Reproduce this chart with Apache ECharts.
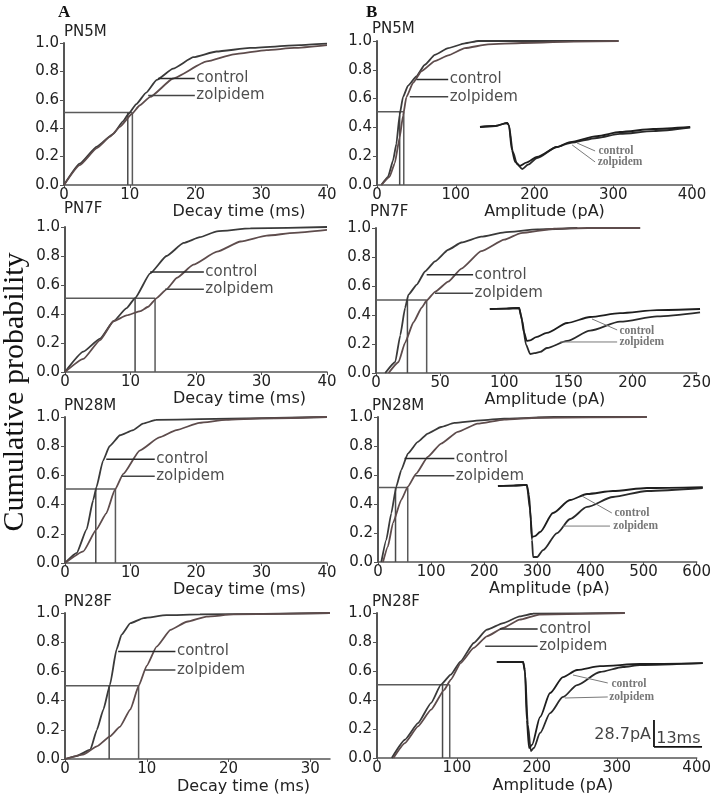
<!DOCTYPE html>
<html><head><meta charset="utf-8">
<script src="https://cdn.jsdelivr.net/npm/echarts@6/dist/echarts.min.js"></script>
<style>html,body{margin:0;padding:0;background:#fff}#c{width:714px;height:801px}</style>
</head><body><div id="c"></div>
<script>
// ---------- Cumulative distributions (x, cumulative probability) ----------
const a1Control  = [[0,0],[2.4,0.15],[5,0.27],[7.5,0.36],[9,0.45],[9.8,0.5],[11,0.57],[12.5,0.65],[14.1,0.74],[16.6,0.82],[19.7,0.9],[23.2,0.94],[28.3,0.965],[35.9,0.985],[40,0.995]];
const a1Zolpidem = [[0,0],[2.4,0.14],[5,0.26],[7,0.34],[8.5,0.41],[10.3,0.5],[11.5,0.56],[13.1,0.62],[16.6,0.75],[21.7,0.87],[25.8,0.92],[30.8,0.95],[35,0.965],[40,0.985]];
const a1Median = [0.51, 9.7, 10.4];
const a1CtrlLeader = [[14.3,0.75],[19.9,0.75]];
const a1ZolLeader  = [[12.8,0.63],[19.9,0.63]];

const a2Control  = [[0,0],[2.8,0.14],[5.35,0.23],[7.4,0.35],[9.4,0.44],[10.7,0.51],[13,0.68],[15.5,0.8],[18.1,0.89],[20.6,0.93],[23.2,0.97],[28.3,0.99],[40,1.0]];
const a2Zolpidem = [[0,0],[2.8,0.09],[5.35,0.22],[7.4,0.35],[9.4,0.39],[11.5,0.42],[12.7,0.45],[14,0.51],[15.5,0.57],[17.1,0.65],[19.6,0.74],[23.2,0.83],[26.8,0.9],[30.8,0.94],[35,0.96],[40,0.98]];
const a2Median = [0.508, 10.7, 13.75];
const a2CtrlLeader = [[13,0.69],[21.2,0.69]];
const a2ZolLeader  = [[15.3,0.57],[21.2,0.57]];

const a3Control  = [[0,0],[1.8,0.07],[3.3,0.23],[4.3,0.43],[4.8,0.52],[5.8,0.7],[6.8,0.8],[8.4,0.875],[10.4,0.91],[11.9,0.955],[13.9,0.98],[20.5,0.985],[40,1.0]];
const a3Zolpidem = [[0,0],[2.8,0.08],[4.8,0.23],[6.3,0.34],[7.6,0.5],[8.9,0.61],[11.4,0.77],[14.4,0.86],[17,0.91],[20.5,0.96],[24.6,0.98],[30,0.99],[40,1.0]];
const a3Median = [0.507, 4.7, 7.7];
const a3CtrlLeader = [[6.3,0.71],[13.7,0.71]];
const a3ZolLeader  = [[8.6,0.595],[13.7,0.595]];

const a4Control  = [[0,0],[1.4,0.02],[3.1,0.064],[3.9,0.2],[4.7,0.34],[5.5,0.51],[6.3,0.75],[6.9,0.85],[8,0.93],[9.6,0.965],[12.4,0.985],[16.5,0.99],[32.4,1.0]];
const a4Zolpidem = [[0,0],[2.2,0.03],[3.9,0.087],[5.5,0.155],[6.7,0.22],[8,0.34],[9,0.5],[10,0.64],[11.2,0.77],[12.9,0.885],[14.9,0.94],[17.3,0.975],[20.6,0.99],[32.4,1.0]];
const a4Median = [0.502, 5.4, 9.0];
const a4CtrlLeader = [[6.5,0.737],[13.5,0.737]];
const a4ZolLeader  = [[9.8,0.61],[13.5,0.61]];

const b1Control  = [[5.5,0],[14,0.057],[20.4,0.17],[24.6,0.286],[28.8,0.49],[33,0.61],[39.4,0.69],[50,0.755],[60.7,0.835],[73.4,0.904],[90.4,0.95],[111.6,0.984],[128.5,1.0],[306.7,1.0]];
const b1Zolpidem = [[5.5,0],[16,0.057],[22.5,0.15],[28.8,0.33],[33,0.48],[37.3,0.61],[45.8,0.71],[56.4,0.79],[73.4,0.86],[90.4,0.9],[111.6,0.95],[141,0.977],[183.7,0.986],[250,0.995],[306.7,1.0]];
const b1Median = [0.508, 28.8, 34];
const b1CtrlLeader = [[50,0.732],[90.4,0.732]];
const b1ZolLeader  = [[41.6,0.613],[90.4,0.613]];

const b2Control  = [[7.2,0],[15,0.076],[18.9,0.26],[22.7,0.45],[25.3,0.54],[31.8,0.61],[38.2,0.7],[46,0.77],[56.3,0.85],[66.6,0.9],[82,0.94],[100,0.97],[126,0.99],[157,1.0]];
const b2Zolpidem = [[9.8,0],[17.6,0.076],[22.7,0.21],[29.2,0.35],[35.6,0.45],[39.5,0.5],[46,0.56],[56.3,0.63],[66.6,0.72],[82,0.84],[100,0.92],[113,0.965],[139,0.995],[165,1.0],[206,1.0]];
const b2Median = [0.503, 24.5, 39.5];
const b2CtrlLeader = [[39.5,0.677],[75.7,0.677]];
const b2ZolLeader  = [[46,0.55],[75.7,0.55]];

const b3Control  = [[6.25,0],[15.6,0.153],[25,0.336],[34.4,0.52],[43.75,0.634],[56.25,0.748],[75,0.828],[93.75,0.886],[118.75,0.931],[143.75,0.959],[193.75,0.977],[237.5,0.989],[331,1.0],[506,1.0]];
const b3Zolpidem = [[9.4,0],[18.75,0.108],[28.1,0.268],[43.75,0.428],[56.25,0.52],[71.9,0.61],[93.75,0.725],[118.75,0.817],[150,0.897],[187.5,0.954],[237.5,0.982],[300,0.995],[506,1.0]];
const b3Median = [0.513, 33, 56];
const b3CtrlLeader = [[50,0.714],[143.75,0.714]];
const b3ZolLeader  = [[70,0.594],[143.75,0.594]];

const b4Control  = [[18.5,0],[34.9,0.126],[51.3,0.24],[67.7,0.38],[80,0.506],[92.3,0.575],[104.6,0.667],[121,0.793],[137.4,0.885],[158,0.93],[178.5,0.977],[195,0.995],[310,1.0]];
const b4Zolpidem = [[20.5,0],[34.9,0.103],[51.3,0.218],[67.7,0.333],[84.1,0.47],[92.3,0.54],[104.6,0.655],[121,0.759],[137.4,0.839],[158,0.897],[178.5,0.954],[203,0.989],[310,1.0]];
const b4Median = [0.506, 82, 91];
const b4CtrlLeader = [[153.8,0.89],[201,0.89]];
const b4ZolLeader  = [[135.4,0.77],[201,0.77]];

// ---------- Inset current traces (time ms, current pA) ----------
const i1Control  = [[0,0],[4.1,1.1],[7.3,4.3],[7.8,2.1],[8.6,-24.5],[9.5,-37.2],[10.8,-41.5],[12.5,-38],[15.4,-31.9],[20.8,-21.3],[24.3,-16],[31.6,-9.6],[37.8,-5.3],[46.8,-2.1],[56.8,0]];
const i1Zolpidem = [[0,0],[4.1,1.1],[7.3,4.3],[7.8,2.1],[8.9,-26.6],[10,-39.4],[11.4,-44.7],[13,-40],[15.4,-33],[20.8,-21.3],[24.3,-17],[31.6,-11.7],[37.8,-7.4],[46.8,-4.3],[56.8,-0.5]];
const i1CtrlLeader = [[26.2,-17],[31.1,-25.5]];
const i1ZolLeader  = [[24.9,-19.1],[31.1,-37.2]];
const i1LabelPos = [[31.6,-25.5],[31.4,-37.2]];

const i2Control  = [[0.5,0],[5,0.5],[8.4,1.1],[8.9,-6.4],[9.7,-24.5],[10.5,-34],[11.4,-33.5],[13,-30],[15.9,-25.5],[21.4,-14.9],[27.6,-8.5],[35.7,-4.3],[45.7,-1.1],[57.3,0]];
const i2Zolpidem = [[0.5,0],[5,0.5],[8.4,1.1],[9.2,-11.7],[10.3,-38.3],[11.4,-47.9],[12.5,-47],[14.1,-45.7],[15.9,-41.5],[21.4,-34],[27.6,-23],[35.7,-13.5],[45.7,-7.8],[57.3,-3.5]];
const i2CtrlLeader = [[28.1,-10.6],[34.9,-22.3]];
const i2ZolLeader  = [[19.5,-35.1],[34.9,-35.1]];
const i2LabelPos = [[35.1,-23.4],[35.1,-35.1]];

const i3Control  = [[0.8,0],[5,0.5],[8.6,1.1],[9.2,-9.6],[9.7,-36.2],[10,-54.3],[10.8,-53.2],[12.2,-48.9],[15.7,-28.7],[20.3,-14.9],[24.9,-8.5],[31.9,-5.3],[41.1,-2.1],[56.2,-1.1]];
const i3Zolpidem = [[0.8,0],[5,0.5],[8.6,1.1],[9.5,-25.5],[10,-57.4],[10.3,-75.5],[11.4,-75.5],[13,-68.1],[16.8,-50],[20.3,-35.1],[24.9,-22.3],[31.9,-11.7],[41.1,-5.3],[56.2,-2.1]];
const i3CtrlLeader = [[23.5,-10.6],[31.6,-28.7]];
const i3ZolLeader  = [[18.4,-42.6],[31.1,-42.6]];
const i3LabelPos = [[31.9,-28.7],[31.6,-42.6]];

const i4Control  = [[0.5,0],[7.6,0],[8.1,-8.5],[8.6,-61.7],[9.2,-91.5],[10,-88.3],[12.2,-58.5],[14.9,-33],[18.4,-16],[22.2,-8.5],[28.4,-4.3],[39.2,-2.1],[56.2,-1.1]];
const i4Zolpidem = [[0.5,0],[7.6,0],[8.1,-10.6],[8.9,-67],[9.7,-94.7],[10.5,-91.5],[12.2,-75.5],[14.9,-54.3],[18.4,-37.2],[22.2,-24.5],[28.4,-10.6],[34.6,-5.3],[39.2,-3.2],[56.2,-1.1]];
const i4CtrlLeader = [[21.1,-13.8],[30.5,-22.3]];
const i4ZolLeader  = [[18.9,-38.3],[30.5,-37.2]];
const i4LabelPos = [[31.1,-23.4],[30.5,-37.2]];
const scaleBarAmp  = [[43,-90.4],[43,-61.7]];   // 28.7 pA
const scaleBarTime = [[43,-90.4],[56,-90.4]];   // 13 ms

const panelTitles = ['PN5M','PN7F','PN28M','PN28F','PN5M','PN7F','PN28M','PN28F'];
const decayName = 'Decay time (ms)', ampName = 'Amplitude (pA)';

// ---------- layout ----------
const SANS = "'DejaVu Sans', Verdana, sans-serif";
const SERIF = "'Liberation Serif', 'DejaVu Serif', serif";
const panels = [
  {g:{left:64,top:43,width:263,height:142}, xMax:40, xInt:10, name:decayName, pad:87, t:[64,25], c:a1Control, z:a1Zolpidem, m:a1Median, lc:a1CtrlLeader, lz:a1ZolLeader},
  {g:{left:65,top:227,width:262,height:145}, xMax:40, xInt:10, name:decayName, pad:87, t:[64,202], c:a2Control, z:a2Zolpidem, m:a2Median, lc:a2CtrlLeader, lz:a2ZolLeader},
  {g:{left:65,top:417,width:262,height:146}, xMax:40, xInt:10, name:decayName, pad:87, t:[64,399], c:a3Control, z:a3Zolpidem, m:a3Median, lc:a3CtrlLeader, lz:a3ZolLeader},
  {g:{left:65,top:613,width:265,height:146}, xMax:32.4, xInt:10, name:decayName, pad:92, t:[64,595], c:a4Control, z:a4Zolpidem, m:a4Median, lc:a4CtrlLeader, lz:a4ZolLeader, gap:20},
  {g:{left:377,top:41,width:315,height:144}, xMax:400, xInt:100, name:ampName, pad:20, t:[372,22], c:b1Control, z:b1Zolpidem, m:b1Median, lc:b1CtrlLeader, lz:b1ZolLeader},
  {g:{left:376,top:228,width:322,height:145}, xMax:250, xInt:50, name:ampName, pad:17, t:[370,205], c:b2Control, z:b2Zolpidem, m:b2Median, lc:b2CtrlLeader, lz:b2ZolLeader},
  {g:{left:378,top:417,width:320,height:145}, xMax:600, xInt:100, name:ampName, pad:24, t:[372,399], c:b3Control, z:b3Zolpidem, m:b3Median, lc:b3CtrlLeader, lz:b3ZolLeader},
  {g:{left:377,top:613,width:323,height:145}, xMax:400, xInt:100, name:ampName, pad:32, t:[372,595], c:b4Control, z:b4Zolpidem, m:b4Median, lc:b4CtrlLeader, lz:b4ZolLeader, gap:20}
];
const insets = [
  {g:{left:480,top:115,width:215,height:60}, x:[0,58.1], y:[-51.1,12.8], c:i1Control, z:i1Zolpidem, lc:i1CtrlLeader, lz:i1ZolLeader, lp:i1LabelPos},
  {g:{left:488,top:300,width:215,height:60}, x:[0,58.1], y:[-54.3,9.6], c:i2Control, z:i2Zolpidem, lc:i2CtrlLeader, lz:i2ZolLeader, lp:i2LabelPos},
  {g:{left:495,top:475,width:210,height:90}, x:[0,56.8], y:[-84.0,11.7], c:i3Control, z:i3Zolpidem, lc:i3CtrlLeader, lz:i3ZolLeader, lp:i3LabelPos},
  {g:{left:495,top:650,width:210,height:110}, x:[0,56.8], y:[-104.3,12.8], c:i4Control, z:i4Zolpidem, lc:i4CtrlLeader, lz:i4ZolLeader, lp:i4LabelPos, bar:true}
];

const option = {animation:false, backgroundColor:'#fff', title:[], grid:[], xAxis:[], yAxis:[], series:[], graphic:[]};
function lineS(idx, data, color, width, smooth){
  return {type:'line', xAxisIndex:idx, yAxisIndex:idx, data:data, showSymbol:false, symbol:'none',
    smooth: smooth||false, smoothMonotone:'x', silent:true, lineStyle:{color:color, width:width}};
}
function labelS(idx, pts, names, font, size, color, weight){
  return {type:'scatter', xAxisIndex:idx, yAxisIndex:idx, symbolSize:1, silent:true,
    itemStyle:{color:'rgba(0,0,0,0)'},
    data: pts.map((p,k)=>({value:p, name:names[k]})),
    label:{show:true, position:'right', distance:1, formatter:'{b}', fontFamily:font, fontSize:size, color:color, fontWeight:weight||'normal'}};
}
panels.forEach((p,i)=>{
  option.grid.push(Object.assign({}, p.g));
  option.title.push({text:panelTitles[i], left:p.t[0], top:p.t[1], padding:0,
    textStyle:{fontFamily:SANS, fontSize:15, fontWeight:'normal', color:'#222'}});
  option.xAxis.push({gridIndex:i, type:'value', min:0, max:p.xMax, interval:p.xInt,
    axisLine:{show:true, onZero:false, lineStyle:{color:'#555', width:1.5}},
    axisTick:{show:true, length:3, lineStyle:{color:'#555'}},
    axisLabel:{margin:3, fontFamily:SANS, fontSize:15, color:'#222', showMaxLabel: p.xMax % p.xInt === 0, showMinLabel:true},
    splitLine:{show:false},
    name:p.name, nameLocation:'middle', nameGap:p.gap||18,
    nameTextStyle:{fontFamily:SANS, fontSize:16, color:'#222', padding:[0,0,0,p.pad]}});
  option.yAxis.push({gridIndex:i, type:'value', min:0, max:1, interval:0.2,
    axisLine:{show:true, onZero:false, lineStyle:{color:'#555', width:2}},
    axisTick:{show:true, length:4, lineStyle:{color:'#555'}},
    axisLabel:{margin:5, fontFamily:SANS, fontSize:15, color:'#222', formatter:v=>v.toFixed(1)},
    splitLine:{show:false}});
  const m = p.m;
  option.series.push(lineS(i, [[0,m[0]],[Math.max(m[1],m[2]),m[0]]], '#5a5a5a', 1.5));
  option.series.push(lineS(i, [[m[1],0],[m[1],m[0]]], '#4a4a4a', 1.5));
  option.series.push(lineS(i, [[m[2],0],[m[2],m[0]]], '#5a5a5a', 1.5));
  option.series.push(lineS(i, p.c, '#3a3a3a', 1.8, 0.15));
  option.series.push(lineS(i, p.z, '#5e4c4c', 1.8, 0.15));
  option.series.push(lineS(i, p.lc, '#2a2a2a', 1.5));
  option.series.push(lineS(i, p.lz, '#444', 1.5));
  option.series.push(labelS(i, [p.lc[1], p.lz[1]], ['control','zolpidem'], SANS, 15, '#222'));
});
insets.forEach((q,j)=>{
  const idx = panels.length + j;
  option.grid.push(Object.assign({}, q.g));
  option.xAxis.push({gridIndex:idx, type:'value', min:q.x[0], max:q.x[1], show:false, splitLine:{show:false}});
  option.yAxis.push({gridIndex:idx, type:'value', min:q.y[0], max:q.y[1], show:false, splitLine:{show:false}});
  option.series.push(lineS(idx, q.z, '#2a2a2a', 1.8, 0.25));
  option.series.push(lineS(idx, q.c, '#1e1e1e', 1.8, 0.25));
  option.series.push(lineS(idx, q.lc, '#7a7a7a', 1));
  option.series.push(lineS(idx, q.lz, '#7a7a7a', 1));
  option.series.push(labelS(idx, q.lp, ['control','zolpidem'], SERIF, 11.5, '#555', 'bold'));
  if (q.bar){
    option.series.push(lineS(idx, scaleBarAmp, '#111', 1.8));
    option.series.push(lineS(idx, scaleBarTime, '#111', 1.8));
    option.series.push({type:'scatter', xAxisIndex:idx, yAxisIndex:idx, symbolSize:1, silent:true,
      itemStyle:{color:'rgba(0,0,0,0)'},
      data:[{value:[42.6,-78], name:'28.7pA', label:{position:'left', distance:1}},
            {value:[49.6,-81.5], name:'13ms', label:{position:'inside'}}],
      label:{show:true, formatter:'{b}', fontFamily:SANS, fontSize:16, color:'#111'}});
  }
});
option.title.push({text:'A', left:58, top:4, padding:0, textStyle:{fontFamily:SERIF, fontSize:17, fontWeight:'bold', color:'#111'}});
option.title.push({text:'B', left:366, top:4, padding:0, textStyle:{fontFamily:SERIF, fontSize:17, fontWeight:'bold', color:'#111'}});
option.graphic.push({type:'text', x:15, y:392, rotation:Math.PI/2,
  style:{text:'Cumulative probability', font:"30px 'Liberation Serif', serif", fill:'#111', textAlign:'center', textVerticalAlign:'middle'}});

const chart = echarts.init(document.getElementById('c'), null, {renderer:'canvas'});
chart.setOption(option);
</script></body></html>
